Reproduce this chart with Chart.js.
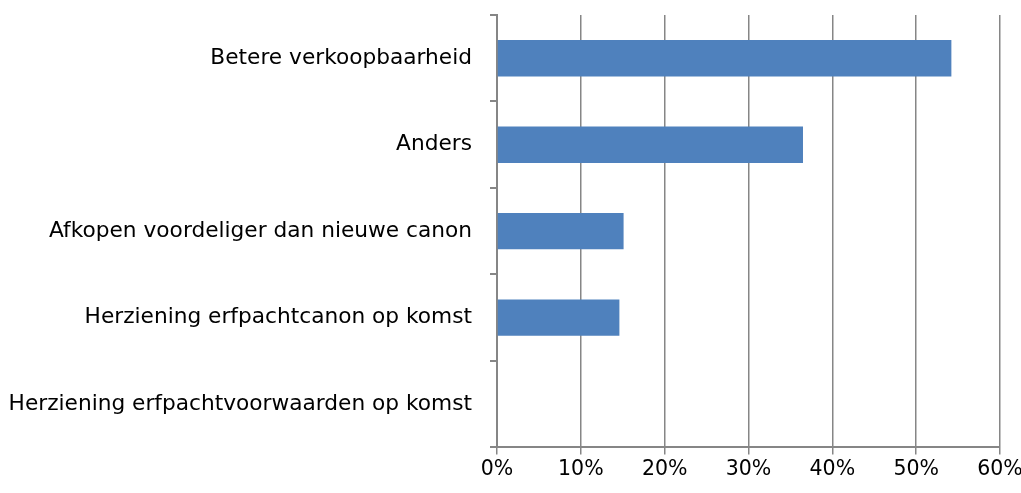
<!DOCTYPE html>
<html>
<head>
<meta charset="utf-8">
<script src="https://cdn.jsdelivr.net/npm/chart.js@4"></script>
<style>
    html, body { margin: 0; padding: 0; background: #ffffff; }
    #wrap { width: 1021px; height: 493px; }
</style>
</head>
<body>
<div id="wrap"><canvas id="dataChart"></canvas></div>
<script>
// Categories (top to bottom) and share of respondents in percent
const categories = [
    'Betere verkoopbaarheid',
    'Anders',
    'Afkopen voordeliger dan nieuwe canon',
    'Herziening erfpachtcanon op komst',
    'Herziening erfpachtvoorwaarden op komst',
];
const shares = [54.2, 36.5, 15.1, 14.6, 0];
const axisMax = 60;
const axisStep = 10;

const gridColor = '#868686';
const barColor = '#4F81BD';

/**
 * Render the horizontal bar chart
 * @param {string} chartId - ID of the canvas element
 */
function renderChart(chartId) {
    const ctx = document.getElementById(chartId).getContext('2d');
    new Chart(ctx, {
        type: 'bar',
        data: {
            labels: categories,
            datasets: [{
                data: shares,
                backgroundColor: barColor,
                borderWidth: 0,
                barPercentage: 0.42,
                categoryPercentage: 1,
            }],
        },
        options: {
            indexAxis: 'y',
            responsive: true,
            maintainAspectRatio: false,
            animation: false,
            layout: { padding: { top: 15, right: 21, bottom: 8, left: 0 } },
            plugins: {
                legend: { display: false },
                tooltip: { enabled: false },
            },
            scales: {
                x: {
                    min: 0,
                    max: axisMax,
                    ticks: {
                        stepSize: axisStep,
                        color: '#000000',
                        font: { family: 'DejaVu Sans', size: 20.5 },
                        padding: 3,
                        callback: (v) => v + '%',
                    },
                    grid: { color: gridColor, lineWidth: 1.5, tickLength: 7 },
                    border: { color: gridColor, width: 2 },
                    afterFit: (scale) => { scale.paddingRight = 0; scale.paddingLeft = 0; },
                },
                y: {
                    ticks: { color: '#000000', font: { family: 'DejaVu Sans', size: 21.7 }, padding: 18 },
                    grid: { color: gridColor, lineWidth: 2, drawOnChartArea: false, tickLength: 7, offset: true },
                    border: { color: gridColor, width: 2 },
                    afterFit: (scale) => {
                        scale.width = 497;
                        scale.paddingTop = 0;
                        scale.paddingBottom = 0;
                    },
                },
            },
        },
    });
}

renderChart('dataChart');
</script>
</body>
</html>
